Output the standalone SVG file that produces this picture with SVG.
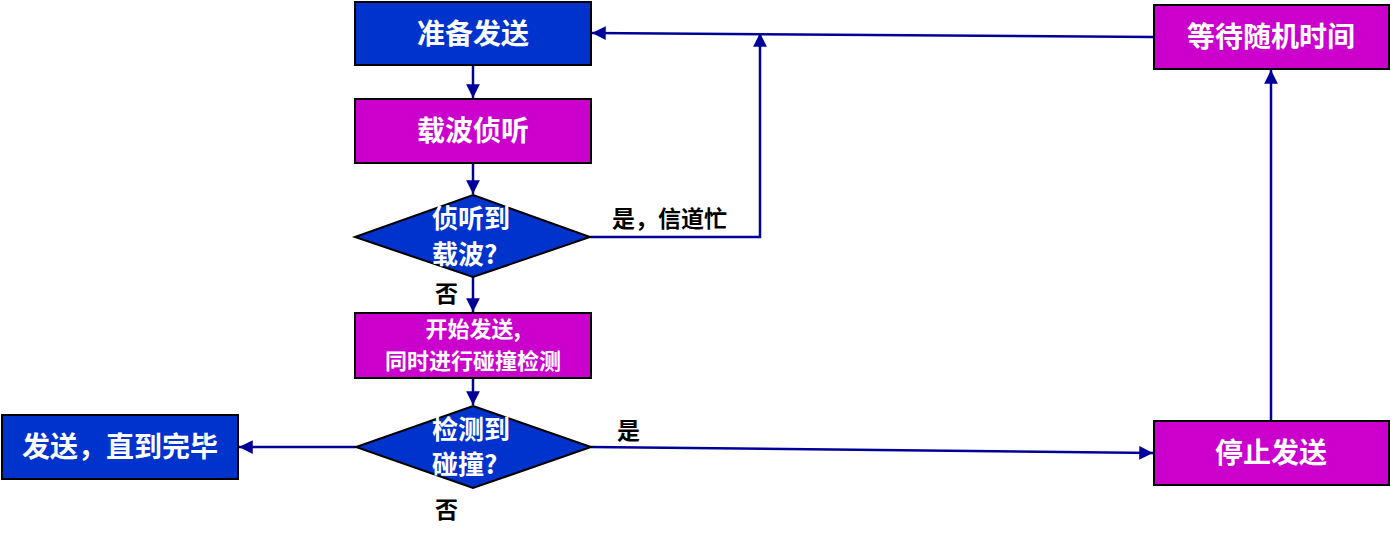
<svg xmlns="http://www.w3.org/2000/svg" width="1390" height="538" viewBox="0 0 1390 538">
<style>
.b{fill:#0033CC;stroke:#000;stroke-width:2}
.m{fill:#CC00CC;stroke:#000;stroke-width:2}
.t{font-family:"Noto Sans CJK SC","Liberation Sans",sans-serif;font-weight:bold;fill:#fff;font-size:28px;text-anchor:middle}
.d{font-family:"Noto Sans CJK SC","Liberation Sans",sans-serif;font-weight:bold;fill:#fff;font-size:26px}
.s{font-family:"Noto Sans CJK SC","Liberation Sans",sans-serif;font-weight:bold;fill:#fff;font-size:22px;text-anchor:middle}
.l{font-family:"Noto Sans CJK SC","Liberation Sans",sans-serif;font-weight:bold;fill:#000;font-size:23px}
.c{fill:none;stroke:#000099;stroke-width:2.5}
</style>
<defs>
<marker id="a" viewBox="0 0 10 10" refX="10" refY="5" markerWidth="5.5" markerHeight="5.5" markerUnits="strokeWidth" orient="auto">
<path d="M0,0 L10,5 L0,10 z" fill="#000099"/>
</marker>
</defs>
<g id="connectors">
<line class="c" x1="473" y1="65" x2="473" y2="98" marker-end="url(#a)"/>
<line class="c" x1="473" y1="163" x2="473" y2="194" marker-end="url(#a)"/>
<polyline class="c" points="590,237 760,237 760,33" marker-end="url(#a)"/>
<line class="c" x1="1154" y1="37" x2="592" y2="33" marker-end="url(#a)"/>
<line class="c" x1="473" y1="277" x2="473" y2="312" marker-end="url(#a)"/>
<line class="c" x1="473" y1="378" x2="473" y2="405" marker-end="url(#a)"/>
<line class="c" x1="356" y1="447" x2="239" y2="447" marker-end="url(#a)"/>
<line class="c" x1="591" y1="447" x2="1153" y2="453" marker-end="url(#a)"/>
<line class="c" x1="1271" y1="421" x2="1271" y2="70" marker-end="url(#a)"/>
</g>
<g id="n1"><rect class="b" x="355" y="2" width="236" height="63"/><text class="t" x="473" y="44">准备发送</text></g>
<g id="n2"><rect class="m" x="355" y="99" width="236" height="64"/><text class="t" x="473" y="141">载波侦听</text></g>
<g id="n3"><polygon class="b" points="473,195 590,237 473,277 355,237"/><text class="d" x="432" y="228">侦听到</text><text class="d" x="432" y="264">载波?</text></g>
<g id="n4"><rect class="m" x="355" y="313" width="236" height="65"/><text class="s" x="473" y="337">开始发送,</text><text class="s" x="473" y="369">同时进行碰撞检测</text></g>
<g id="n5"><polygon class="b" points="473,406 591,447 473,488 356,447"/><text class="d" x="432" y="439">检测到</text><text class="d" x="432" y="474">碰撞?</text></g>
<g id="n6"><rect class="b" x="2" y="415" width="236" height="64"/><text class="t" x="120" y="457">发送，直到完毕</text></g>
<g id="n7"><rect class="m" x="1154" y="421" width="235" height="64"/><text class="t" x="1271" y="463">停止发送</text></g>
<g id="n8"><rect class="m" x="1154" y="5" width="235" height="64"/><text class="t" x="1271" y="47">等待随机时间</text></g>
<g id="labels">
<text class="l" x="612" y="227">是，信道忙</text>
<text class="l" x="435" y="302">否</text>
<text class="l" x="617" y="439">是</text>
<text class="l" x="435" y="518">否</text>
</g>
</svg>
